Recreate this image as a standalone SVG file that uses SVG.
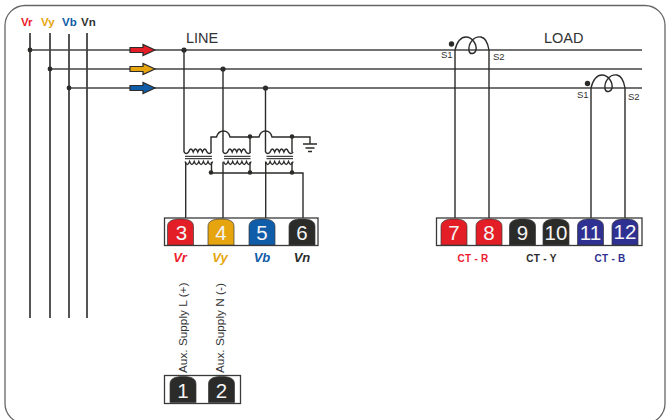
<svg xmlns="http://www.w3.org/2000/svg" width="666" height="420" viewBox="0 0 666 420">
<style>
text{font-family:"Liberation Sans",Arial,sans-serif}
.w{fill:none;stroke:#2b2b2a;stroke-width:1.4}
.v{fill:none;stroke:#2b2b2a;stroke-width:1.6}
.h{fill:none;stroke:#444;stroke-width:1.6}
.d{fill:#2b2b2a}
.box{fill:#fff;stroke:#3a3a3a;stroke-width:1.3}
.n{fill:#f4f4f4;font-size:20.500px;text-anchor:middle}
.hd{font-size:11.500px;font-weight:bold}
.it{font-size:13px;font-weight:bold;font-style:italic;text-anchor:middle}
.ct{font-size:10px;font-weight:bold;text-anchor:middle;letter-spacing:.3px}
.s{font-size:9.500px;fill:#333}
.t{font-size:14.500px;fill:#333}
.a{font-size:11.800px;fill:#333}
.ar{stroke:#2b2b2a;stroke-width:1.200}
</style>
<defs>
<path id="key" d="M0 26.500V8C0 3 4 .5 13 .5S26 3 26 8V26.500Z" stroke="#3a3a3a" stroke-width=".7"/>
<path id="arrow" class="ar" d="M0 -2.500H13V-5.500L25 0L13 5.500V2.500H0Z"/>
<path id="coil" class="w" d="M0 0C2 -8 6 -13 11 -13C17 -13 22 -6 21 0C20 4 15 5 14 1C13 -7 19 -14 26 -13C31 -12 33 -6 34 0"/>
<path id="prim" class="w" d="M0 -1q2.300 3 4.600 0q2.300 -6 4.600 0q2.300 -6 4.600 0q2.300 -6 4.600 0q2.300 -6 4.600 0q2.300 3 4.600 0"/>
<path id="sec" class="w" d="M0 0q2.300 6 4.600 0q2.300 6 4.600 0q2.300 6 4.600 0q2.300 6 4.600 0q2.300 6 4.600 0q2.300 6 4.600 0"/>
</defs>
<rect id="frame" x="5" y="5.500" width="660" height="418" rx="20" fill="#fff" stroke="#666" stroke-width="1.300"/>
<g id="connectors">
<path class="v" d="M30 33V318M50 33V318M69 34V318M87 33V318"/>
<path class="h" d="M30 50H642M50 69H642M69 88H642"/>
<path class="w" d="M184 50V149Q184 152 184 152M223 69V152M265.500 88V152"/>
<path class="w" d="M211 152V137H216.500C219 129 228 129 230 137H250V152M250 137H259C261 129 270 129 272 137H292V152M292 137H310V144"/>
<path class="w" d="M211.500 162V173H303V218M185.700 162V218M223 162V218M250 162V173M265.700 162V218M292 162V173"/>
<path class="w" d="M303 144H317M305.500 148H314.500M308 151.500H312"/>
<use href="#prim" x="184" y="153"/><use href="#prim" x="223" y="153"/><use href="#prim" x="265.500" y="153"/>
<use href="#sec" x="185" y="161.500"/><use href="#sec" x="223.500" y="161.500"/><use href="#sec" x="265.500" y="161.500"/>
<path fill="none" stroke="#444" stroke-width="1.300" d="M185 156.300H212M185 158.700H212M224 156.300H250.500M224 158.700H250.500M266.500 156.300H293M266.500 158.700H293"/>
<use href="#coil" x="455" y="50"/><use href="#coil" x="591" y="88"/>
<path class="w" d="M455 50V218M489 50V218M591 88V218M625 88V218"/>
<g class="d">
<circle cx="30" cy="50" r="2.400"/><circle cx="50" cy="69" r="2.400"/><circle cx="69" cy="88" r="2.400"/>
<circle cx="184" cy="50" r="2.600"/><circle cx="223" cy="69" r="2.600"/><circle cx="265.500" cy="88" r="2.600"/>
<circle cx="250" cy="136.500" r="2.300"/><circle cx="292" cy="136.500" r="2.300"/>
<circle cx="211" cy="172.500" r="2.300"/><circle cx="250" cy="172.500" r="2.300"/><circle cx="292" cy="172.500" r="2.300"/>
<circle cx="451.500" cy="44" r="2.700"/><circle cx="587.500" cy="83.500" r="2.700"/>
</g>
<use href="#arrow" x="130" y="50" fill="#e31e26"/>
<use href="#arrow" x="130" y="69" fill="#e6a50f"/>
<use href="#arrow" x="130" y="88" fill="#0f5ca8"/>
</g>
<g id="labels">
<text class="hd" x="21" y="26" fill="#ed1c2e">Vr</text>
<text class="hd" x="41" y="26" fill="#e6a50f">Vy</text>
<text class="hd" x="62" y="26" fill="#0f5ca8">Vb</text>
<text class="hd" x="81" y="26" fill="#333">Vn</text>
<text class="t" x="186" y="43">LINE</text>
<text class="t" x="544" y="43">LOAD</text>
<text class="s" x="441" y="58">S1</text><text class="s" x="493" y="60">S2</text>
<text class="s" x="577" y="98">S1</text><text class="s" x="628" y="100">S2</text>
</g>
<g id="terminal-block-voltage">
<rect class="box" x="164.500" y="218" width="153.500" height="27.500"/>
<g id="t3"><use href="#key" x="167.500" y="218.500" fill="#e31e26"/><text class="n" x="181.500" y="239.500">3</text></g>
<g id="t4"><use href="#key" x="208" y="218.500" fill="#e6a50f"/><text class="n" x="221" y="239.500">4</text></g>
<g id="t5"><use href="#key" x="249" y="218.500" fill="#0f5ca8"/><text class="n" x="262" y="239.500">5</text></g>
<g id="t6"><use href="#key" x="289" y="218.500" fill="#2b2b2a"/><text class="n" x="302" y="239.500">6</text></g>
<text class="it" x="180" y="262" fill="#ed1c2e">Vr</text>
<text class="it" x="220" y="262" fill="#e6a50f">Vy</text>
<text class="it" x="262" y="262" fill="#0f5ca8">Vb</text>
<text class="it" x="302" y="262" fill="#2b2b2a">Vn</text>
</g>
<g id="terminal-block-ct">
<rect class="box" x="436.500" y="218" width="205.500" height="27.500"/>
<g id="t7"><use href="#key" x="441" y="218.500" fill="#e31e26"/><text class="n" x="454" y="239.500">7</text></g>
<g id="t8"><use href="#key" x="476" y="218.500" fill="#e31e26"/><text class="n" x="489" y="239.500">8</text></g>
<g id="t9"><use href="#key" x="509.500" y="218.500" fill="#2b2b2a"/><text class="n" x="522.500" y="239.500">9</text></g>
<g id="t10"><use href="#key" x="543" y="218.500" fill="#2b2b2a"/><text class="n" x="556" y="239.500">10</text></g>
<g id="t11"><use href="#key" x="577.500" y="218.500" fill="#2e3192"/><text class="n" x="590.500" y="239.500">11</text></g>
<g id="t12"><use href="#key" x="612" y="218.500" fill="#2e3192"/><text class="n" x="625" y="238.500">12</text></g>
<text class="ct" x="473" y="262" fill="#ed1c2e">CT - R</text>
<text class="ct" x="541.500" y="262" fill="#2b2b2a">CT - Y</text>
<text class="ct" x="610" y="262" fill="#2e3192">CT - B</text>
</g>
<g id="terminal-block-aux">
<rect class="box" x="164.500" y="375.500" width="76" height="28"/>
<g id="t1"><use href="#key" x="170" y="376" fill="#2b2b2a"/><text class="n" x="183" y="398">1</text></g>
<g id="t2"><use href="#key" x="208.500" y="376" fill="#2b2b2a"/><text class="n" x="221.500" y="398">2</text></g>
<text class="a" transform="translate(187 373) rotate(-90)">Aux. Supply L (+)</text>
<text class="a" transform="translate(224 373) rotate(-90)">Aux. Supply N (-)</text>
</g>
</svg>
